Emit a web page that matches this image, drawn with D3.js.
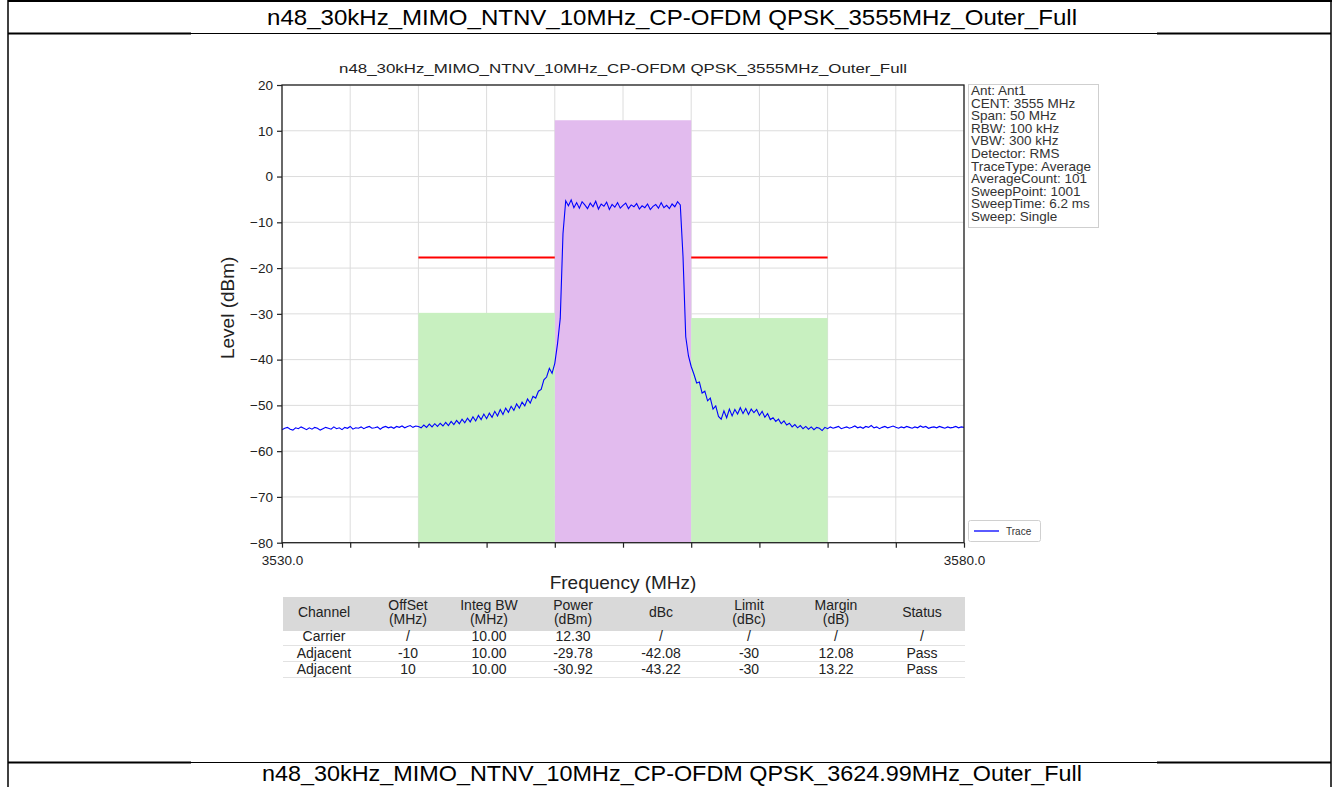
<!DOCTYPE html>
<html>
<head>
<meta charset="utf-8">
<script src="https://cdn.jsdelivr.net/npm/d3@7"></script>
<style>
  html, body { margin: 0; padding: 0; background: #fff; }
  svg { display: block; }
  text { font-family: "Liberation Sans", Arial, sans-serif; }
</style>
</head>
<body>
<svg id="page" width="1340" height="787"></svg>
<script>
// ---------------- DATA ----------------
const pageTitle = "n48_30kHz_MIMO_NTNV_10MHz_CP-OFDM QPSK_3555MHz_Outer_Full";
const nextTitle = "n48_30kHz_MIMO_NTNV_10MHz_CP-OFDM QPSK_3624.99MHz_Outer_Full";
const chartTitle = "n48_30kHz_MIMO_NTNV_10MHz_CP-OFDM QPSK_3555MHz_Outer_Full";

const centerFreq = 3555;
const freqDomain = [3530, 3580];
const levelDomain = [-80, 20];
const yTicks = [20, 10, 0, -10, -20, -30, -40, -50, -60, -70, -80];
const xTicks = [3530, 3535, 3540, 3545, 3550, 3555, 3560, 3565, 3570, 3575, 3580];
const xTickLabels = ["3530.0", "", "", "", "", "", "", "", "", "", "3580.0"];

const infoLines = ["Ant: Ant1", "CENT: 3555 MHz", "Span: 50 MHz", "RBW: 100 kHz", "VBW: 300 kHz",
  "Detector: RMS", "TraceType: Average", "AverageCount: 101", "SweepPoint: 1001",
  "SweepTime: 6.2 ms", "Sweep: Single"];

// channels
const channelNames = ["Carrier", "Adjacent", "Adjacent"];
const channelOffset = [0, -10, 10];
const channelOffsetText = ["/", "-10", "10"];
const channelBW = [10, 10, 10];
const channelBWText = ["10.00", "10.00", "10.00"];
const channelPower = [12.30, -29.78, -30.92];
const channelPowerText = ["12.30", "-29.78", "-30.92"];
const channelDbcText = ["/", "-42.08", "-43.22"];
const channelLimit = [null, -30, -30];
const channelLimitText = ["/", "-30", "-30"];
const channelMarginText = ["/", "12.08", "13.22"];
const channelStatus = ["/", "Pass", "Pass"];
const tableHeader = [["Channel"], ["OffSet", "(MHz)"], ["Integ BW", "(MHz)"], ["Power", "(dBm)"],
  ["dBc"], ["Limit", "(dBc)"], ["Margin", "(dB)"], ["Status"]];

// trace: 0.2 MHz steps from 3530.0 to 3580.0 (251 points)
const traceStartMHz = 3530.0;
const traceStepMHz = 0.2;
const traceLevel = [
  // 3530.0 - 3540.0
  -55.3,-55.0,-54.8,-55.2,-55.4,-54.9,-55.1,-54.7,-55.0,-55.3,
  -54.9,-55.2,-54.8,-55.0,-55.4,-55.1,-54.8,-55.0,-55.2,-54.7,
  -55.1,-54.9,-55.3,-54.8,-55.0,-54.6,-55.2,-54.9,-55.0,-54.7,
  -55.1,-54.8,-54.6,-55.0,-54.9,-54.7,-55.2,-54.8,-54.6,-54.9,
  -54.7,-55.0,-54.6,-54.8,-54.5,-54.9,-54.6,-54.4,-54.8,-54.5,
  -54.6,
  // 3540.2 - 3549.8
  -54.9,-54.3,-54.8,-54.1,-54.7,-54.0,-54.6,-53.9,-54.5,-53.7,
  -54.4,-53.5,-54.2,-53.3,-54.0,-53.0,-53.8,-52.8,-53.6,-52.5,
  -53.4,-52.2,-53.1,-51.9,-52.9,-51.7,-52.6,-51.3,-52.3,-50.9,
  -52.0,-50.6,-51.5,-50.2,-51.1,-49.7,-50.6,-49.3,-50.1,-48.6,
  -49.5,-48.0,-48.4,-46.9,-46.5,-44.4,-43.8,-41.9,-43.0,
  // 3550.0 - 3560.0
  -40.8,-36.5,-31.0,-12.5,
  -5.3,-6.4,-5.1,-6.8,-5.7,-6.9,-5.5,-6.2,-7.0,-5.8,
  -6.6,-5.4,-7.1,-6.0,-6.5,-5.6,-7.2,-6.1,-6.7,-5.7,
  -6.9,-6.3,-5.8,-7.0,-6.2,-6.6,-5.9,-7.1,-6.4,-6.8,
  -6.0,-7.2,-6.5,-6.1,-6.9,-5.7,-6.8,-6.3,-7.0,-6.0,
  -6.6,-5.5,-6.2,
  -17.5,-35.0,-39.2,-41.5,
  // 3560.2 - 3570.0
  -43.2,-45.1,-44.9,-47.3,-46.9,-49.0,-48.4,-50.8,-50.1,-52.4,
  -53.0,-51.2,-52.7,-50.8,-52.3,-50.9,-51.9,-50.5,-51.8,-50.7,
  -52.0,-50.8,-51.6,-50.9,-52.2,-51.3,-52.6,-51.8,-53.1,-52.7,
  -53.5,-53.0,-54.0,-53.4,-54.3,-53.9,-54.7,-54.2,-54.9,-54.4,
  -55.1,-54.6,-55.2,-54.7,-55.3,-54.8,-55.0,-55.5,-54.8,-55.1,
  // 3570.2 - 3580.0
  -54.7,-55.0,-54.8,-54.6,-55.1,-54.9,-54.7,-55.0,-54.8,-54.5,
  -54.9,-54.7,-55.0,-54.6,-54.8,-54.4,-54.9,-54.7,-55.1,-54.8,
  -54.6,-54.9,-54.7,-54.5,-54.8,-55.0,-54.7,-54.9,-54.6,-54.8,
  -55.0,-54.7,-54.9,-54.5,-54.8,-54.6,-55.0,-54.8,-54.7,-54.9,
  -54.6,-54.8,-55.0,-54.7,-54.9,-54.8,-54.6,-54.9,-54.7,-54.8
];

// ---------------- DRAW ----------------
const svg = d3.select("#page");
const FONT = '"Liberation Sans", Arial, sans-serif';

// page frame
const frame = svg.append("g").attr("stroke", "#000").attr("fill", "none");
frame.append("line").attr("x1", 8).attr("x2", 1332).attr("y1", 1).attr("y2", 1).attr("stroke-width", 2);
frame.append("line").attr("x1", 8).attr("x2", 8).attr("y1", 0).attr("y2", 787).attr("stroke-width", 1.5);
frame.append("line").attr("x1", 1331).attr("x2", 1331).attr("y1", 0).attr("y2", 787).attr("stroke-width", 1.5);
frame.append("line").attr("x1", 8).attr("x2", 1331).attr("y1", 33.5).attr("y2", 33.5).attr("stroke-width", 1);
frame.append("line").attr("x1", 8).attr("x2", 191).attr("y1", 33.5).attr("y2", 33.5).attr("stroke-width", 2);
frame.append("line").attr("x1", 1157).attr("x2", 1331).attr("y1", 33.5).attr("y2", 33.5).attr("stroke-width", 2);
frame.append("line").attr("x1", 8).attr("x2", 1331).attr("y1", 762.5).attr("y2", 762.5).attr("stroke-width", 1);
frame.append("line").attr("x1", 8).attr("x2", 191).attr("y1", 762.5).attr("y2", 762.5).attr("stroke-width", 2);
frame.append("line").attr("x1", 1157).attr("x2", 1331).attr("y1", 762.5).attr("y2", 762.5).attr("stroke-width", 2);

svg.append("text").attr("x", 672).attr("y", 25).attr("text-anchor", "middle")
  .attr("font-size", 22.5).attr("textLength", 810).attr("lengthAdjust", "spacingAndGlyphs")
  .text(pageTitle);
svg.append("text").attr("x", 672).attr("y", 781).attr("text-anchor", "middle")
  .attr("font-size", 22.5).attr("textLength", 820).attr("lengthAdjust", "spacingAndGlyphs")
  .text(nextTitle);

// chart
const plot = { left: 282, right: 964, top: 85, bottom: 542.7 };
const x = d3.scaleLinear().domain(freqDomain).range([plot.left, plot.right]);
const y = d3.scaleLinear().domain(levelDomain).range([plot.bottom, plot.top]);

const g = svg.append("g");

// grid
g.append("g").selectAll("line").data(xTicks).join("line")
  .attr("x1", d => x(d)).attr("x2", d => x(d)).attr("y1", plot.top).attr("y2", plot.bottom)
  .attr("stroke", "#dcdcdc").attr("stroke-width", 1);
g.append("g").selectAll("line").data(yTicks).join("line")
  .attr("x1", plot.left).attr("x2", plot.right).attr("y1", d => y(d)).attr("y2", d => y(d))
  .attr("stroke", "#dcdcdc").attr("stroke-width", 1);

// channel blocks
const channels = channelNames.map((n, i) => ({
  name: n, off: channelOffset[i], bw: channelBW[i], power: channelPower[i], limit: channelLimit[i]
}));
g.append("g").selectAll("rect").data(channels).join("rect")
  .attr("x", d => x(centerFreq + d.off - d.bw / 2))
  .attr("width", d => x(centerFreq + d.off + d.bw / 2) - x(centerFreq + d.off - d.bw / 2))
  .attr("y", d => y(d.power))
  .attr("height", d => y(levelDomain[0]) - y(d.power))
  .attr("fill", d => d.name === "Carrier" ? "#e2bbee" : "#c8f0c0");

// limit lines
const carrierPower = channelPower[0];
g.append("g").selectAll("line").data(channels.filter(d => d.limit !== null)).join("line")
  .attr("x1", d => x(centerFreq + d.off - d.bw / 2))
  .attr("x2", d => x(centerFreq + d.off + d.bw / 2))
  .attr("y1", d => y(carrierPower + d.limit))
  .attr("y2", d => y(carrierPower + d.limit))
  .attr("stroke", "#ff0000").attr("stroke-width", 2);

// trace
const traceData = traceLevel.map((v, i) => [traceStartMHz + i * traceStepMHz, v]);
g.append("path").datum(traceData)
  .attr("fill", "none").attr("stroke", "#0000ff").attr("stroke-width", 1.1)
  .attr("d", d3.line().x(d => x(d[0])).y(d => y(d[1])));

// frame
g.append("rect").attr("x", plot.left).attr("y", plot.top)
  .attr("width", plot.right - plot.left).attr("height", plot.bottom - plot.top)
  .attr("fill", "none").attr("stroke", "#222").attr("stroke-width", 1.3);

// axes
const yAxis = g.append("g").attr("transform", `translate(${plot.left},0)`)
  .call(d3.axisLeft(y).tickValues(yTicks).tickFormat(d3.format("d")).tickSize(5).tickPadding(4));
const xAxis = g.append("g").attr("transform", `translate(0,${plot.bottom})`)
  .call(d3.axisBottom(x).tickValues(xTicks).tickFormat((d, i) => xTickLabels[i]).tickSize(5).tickPadding(8));
[yAxis, xAxis].forEach(a => {
  a.select(".domain").remove();
  a.selectAll(".tick line").attr("stroke", "#222").attr("stroke-width", 1.2);
  a.selectAll(".tick text").attr("font-family", FONT).attr("font-size", 13.5).attr("fill", "#222");
});

// titles
g.append("text").attr("x", (plot.left + plot.right) / 2).attr("y", 73).attr("text-anchor", "middle")
  .attr("font-size", 13.5).attr("fill", "#222").attr("textLength", 568).attr("lengthAdjust", "spacingAndGlyphs")
  .text(chartTitle);
g.append("text").attr("transform", `translate(234,${(plot.top + plot.bottom) / 2 - 6}) rotate(-90)`)
  .attr("text-anchor", "middle").attr("font-size", 19).attr("fill", "#222").text("Level (dBm)");
g.append("text").attr("x", (plot.left + plot.right) / 2).attr("y", 589).attr("text-anchor", "middle")
  .attr("font-size", 19).attr("fill", "#222").text("Frequency (MHz)");

// info box
g.append("rect").attr("x", 968.5).attr("y", 84.5).attr("width", 130).attr("height", 143)
  .attr("fill", "#fff").attr("stroke", "#cfcfcf");
g.append("g").selectAll("text").data(infoLines).join("text")
  .attr("x", 971).attr("y", (d, i) => 95 + i * 12.6)
  .attr("font-size", 13.5).attr("fill", "#333").text(d => d);

// legend
g.append("rect").attr("x", 968.5).attr("y", 520.5).attr("width", 72).attr("height", 21).attr("rx", 2)
  .attr("fill", "#fff").attr("stroke", "#d0d0d0");
g.append("line").attr("x1", 974).attr("x2", 999).attr("y1", 531).attr("y2", 531)
  .attr("stroke", "#0000ff").attr("stroke-width", 1.3);
g.append("text").attr("x", 1006).attr("y", 535).attr("font-size", 10).attr("fill", "#333").text("Trace");

// table
const colX = [324, 408, 489, 573, 661, 749, 836, 922];
const tbl = { left: 283, right: 965, headTop: 597, headBottom: 631 };
g.append("rect").attr("x", tbl.left).attr("y", tbl.headTop).attr("width", tbl.right - tbl.left)
  .attr("height", tbl.headBottom - tbl.headTop).attr("fill", "#d9d9d9");
tableHeader.forEach((lines, c) => {
  lines.forEach((t, k) => {
    const yy = lines.length === 1 ? 617 : 610 + k * 14;
    g.append("text").attr("x", colX[c]).attr("y", yy).attr("text-anchor", "middle")
      .attr("font-size", 14).attr("fill", "#222").text(t);
  });
});
const rows = channelNames.map((n, i) => [n, channelOffsetText[i], channelBWText[i], channelPowerText[i],
  channelDbcText[i], channelLimitText[i], channelMarginText[i], channelStatus[i]]);
const rowY = [641, 657.5, 673.5];
[645.5, 661.5, 677.5].forEach(ly => {
  g.append("line").attr("x1", tbl.left).attr("x2", tbl.right).attr("y1", ly).attr("y2", ly)
    .attr("stroke", "#e2e2e2").attr("stroke-width", 1);
});
rows.forEach((r, ri) => {
  r.forEach((t, c) => {
    g.append("text").attr("x", colX[c]).attr("y", rowY[ri]).attr("text-anchor", "middle")
      .attr("font-size", 14).attr("fill", "#222").text(t);
  });
});
</script>
</body>
</html>
